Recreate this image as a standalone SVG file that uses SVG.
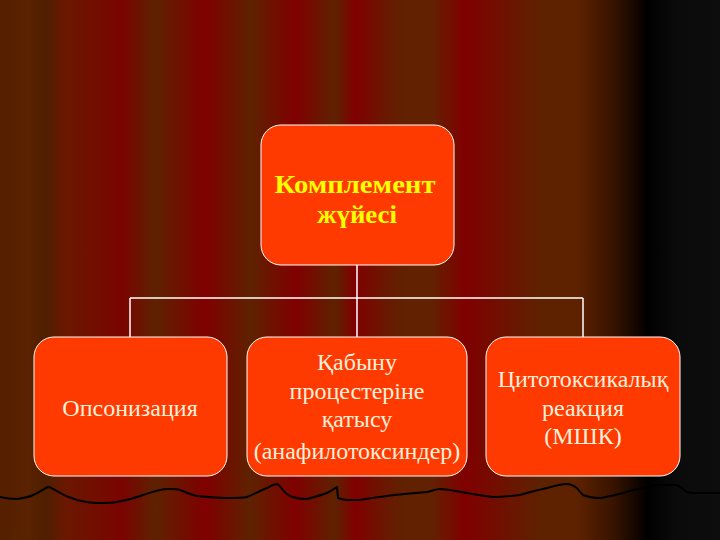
<svg xmlns="http://www.w3.org/2000/svg" width="720" height="540" viewBox="0 0 720 540">
<defs>
<linearGradient id="bg" x1="0" y1="0" x2="720" y2="0" gradientUnits="userSpaceOnUse">
<stop offset="0" stop-color="#552000"/>
<stop offset="0.04" stop-color="#5a2200"/>
<stop offset="0.063" stop-color="#4e1f00"/>
<stop offset="0.09" stop-color="#6a1800"/>
<stop offset="0.17" stop-color="#7a0400"/>
<stop offset="0.215" stop-color="#5e2200"/>
<stop offset="0.285" stop-color="#800000"/>
<stop offset="0.347" stop-color="#5e2200"/>
<stop offset="0.41" stop-color="#800000"/>
<stop offset="0.465" stop-color="#5e2200"/>
<stop offset="0.493" stop-color="#800000"/>
<stop offset="0.535" stop-color="#6a1800"/>
<stop offset="0.56" stop-color="#622100"/>
<stop offset="0.6" stop-color="#622100"/>
<stop offset="0.645" stop-color="#800000"/>
<stop offset="0.695" stop-color="#701000"/>
<stop offset="0.75" stop-color="#5e2200"/>
<stop offset="0.8" stop-color="#5e2200"/>
<stop offset="0.85" stop-color="#3a1400"/>
<stop offset="0.9" stop-color="#000000"/>
<stop offset="0.94" stop-color="#0b0b0b"/>
<stop offset="1" stop-color="#0d0d0d"/>
</linearGradient>
<style>
.box{fill:#ff3a00;stroke:#ffffff;stroke-width:1}
.t{font-family:"Liberation Serif","DejaVu Serif",serif;font-size:24px;fill:#fff0dc;text-anchor:middle}
.h{font-family:"Liberation Serif","DejaVu Serif",serif;font-size:26px;font-weight:bold;fill:#ffff00;text-anchor:middle}
.c{stroke:#ffffff;stroke-width:1.5;fill:none}
</style>
</defs>
<rect x="0" y="0" width="720" height="540" fill="url(#bg)"/>
<path d="M0,497 C8,499 14,499 17,499 C24,498 29,497 33,495 C40,492 45,488 48,487 C51,487 53,489 55,490 C63,495 70,498 77,500 C85,502 91,503 97,503 C105,503 111,503 117,502 C127,500 135,498 143,495 C152,492 160,489 168,489 C173,489 177,489 180,490 C186,492 191,495 197,496 C207,497 217,498 227,498 C235,498 241,498 247,497 C255,494 261,490 267,488 C271,486 274,484 277,484 C280,485 281,488 283,490 C286,494 289,496 293,497 C298,499 302,499 307,499 C315,497 321,495 327,493 C331,491 335,488 337,487 L338,498 C341,499 344,500 347,500 C352,500 356,500 360,500 C370,498 378,497 387,496 C400,494 414,493 427,492 C432,491 436,489 440,489 C444,489 447,490 450,490 C456,491 461,492 467,493 C476,495 484,496 493,497 C502,497 511,496 520,495 C529,492 538,490 547,488 C554,486 561,484 567,484 C571,484 574,486 577,488 C579,491 581,493 583,495 C588,497 594,498 600,498 C608,497 615,495 623,493 C630,491 636,489 643,488 C649,486 654,485 660,485 C666,485 672,485 677,485 C681,487 684,490 687,492 C689,493 691,493 693,493 L720,493" fill="none" stroke="#000000" stroke-width="2" stroke-linejoin="round"/>
<g id="connectors">
<path class="c" d="M357,265 V298 M130,298 H583 M130,298 V337 M357,298 V337 M583,298 V337"/>
</g>
<g id="top">
<rect class="box" x="261" y="125" width="193" height="140" rx="20"/>
<text class="h" x="355" y="193" textLength="161" lengthAdjust="spacingAndGlyphs">Комплемент</text>
<text class="h" x="357" y="223" textLength="80" lengthAdjust="spacingAndGlyphs">жүйесі</text>
</g>
<g id="left">
<rect class="box" x="34" y="337" width="193" height="139" rx="20"/>
<text class="t" x="130" y="416">Опсонизация</text>
</g>
<g id="middle">
<rect class="box" x="247" y="337" width="220" height="139" rx="20"/>
<text class="t" x="357" y="370">Қабыну</text>
<text class="t" x="357" y="399">процестеріне</text>
<text class="t" x="357" y="427">қатысу</text>
<text class="t" x="357" y="459">(анафилотоксиндер)</text>
</g>
<g id="right">
<rect class="box" x="486" y="337" width="194" height="139" rx="20"/>
<text class="t" x="583" y="387">Цитотоксикалық</text>
<text class="t" x="583" y="416">реакция</text>
<text class="t" x="583" y="444">(МШК)</text>
</g>
</svg>
